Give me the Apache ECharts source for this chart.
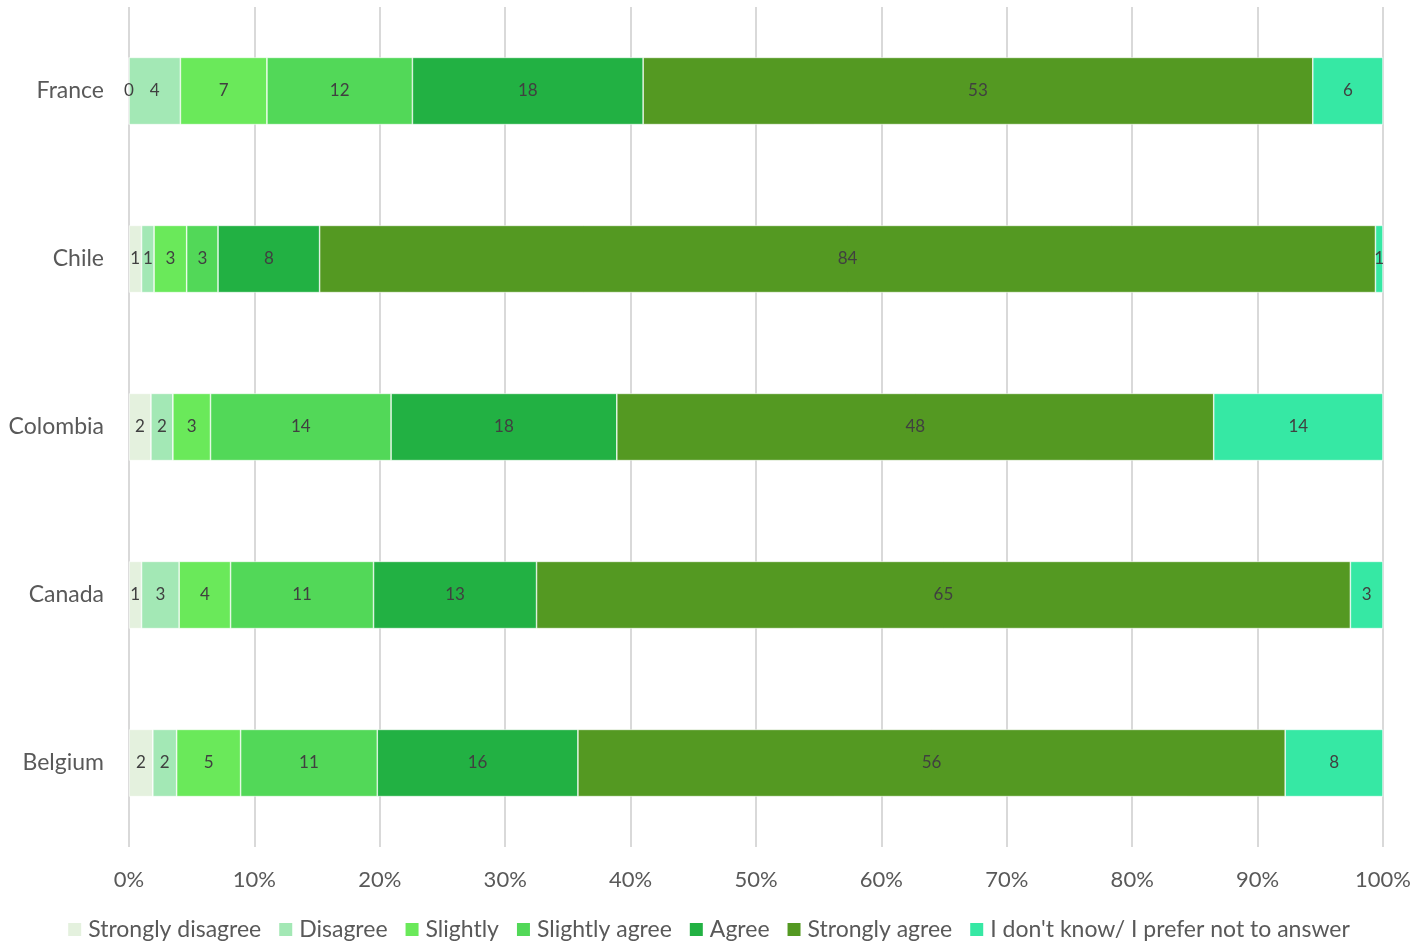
<!DOCTYPE html>
<html>
<head>
<meta charset="utf-8">
<script src="https://cdn.jsdelivr.net/npm/echarts@6/dist/echarts.min.js"></script>
<style>
  html, body { margin: 0; padding: 0; background: #fff; }
  #chart { width: 1416px; height: 952px; }
</style>
</head>
<body>
<div id="chart"></div>
<script>
// countries, top to bottom
const countries = ['France', 'Chile', 'Colombia', 'Canada', 'Belgium'];
const xTicks = [0, 10, 20, 30, 40, 50, 60, 70, 80, 90, 100];

// share of answers (%), one array per answer, same order as countries
const stronglyDisagree = [0, 1.0, 1.75, 1.0, 1.9];
const disagree = [4.1, 1.0, 1.75, 3.0, 1.9];
const slightly = [6.9, 2.6, 3.0, 4.1, 5.1];
const slightlyAgree = [11.6, 2.5, 14.4, 11.4, 10.9];
const agree = [18.4, 8.1, 18.0, 13.0, 16.0];
const stronglyAgree = [53.4, 84.2, 47.6, 64.9, 56.4];
const dontKnow = [5.6, 0.6, 13.5, 2.6, 7.8];

const answers = [
  { name: 'Strongly disagree', data: stronglyDisagree, color: '#e4f1de' },
  { name: 'Disagree', data: disagree, color: '#a3e8b5' },
  { name: 'Slightly', data: slightly, color: '#6ae95a' },
  { name: 'Slightly agree', data: slightlyAgree, color: '#52d858' },
  { name: 'Agree', data: agree, color: '#22b143' },
  { name: 'Strongly agree', data: stronglyAgree, color: '#549922' },
  { name: "I don't know/ I prefer not to answer", data: dontKnow, color: '#36e8a4' }
];

const font = 'Lato, "Open Sans", sans-serif';
const chart = echarts.init(document.getElementById('chart'));

chart.setOption({
  animation: false,
  textStyle: { fontFamily: font },
  grid: { left: 129, right: 33, top: 7, bottom: 105, containLabel: false },
  legend: {
    bottom: 6,
    left: 'center',
    itemWidth: 15,
    itemHeight: 15,
    itemGap: 16,
    icon: 'rect',
    textStyle: { fontSize: 23, color: '#595959', fontFamily: font, padding: [0, 0, 0, 1] }
  },
  xAxis: {
    type: 'value',
    min: 0,
    max: 100,
    interval: 10,
    axisLine: { show: false },
    axisTick: { show: false },
    splitLine: { show: true, lineStyle: { color: '#d9d9d9', width: 2 } },
    axisLabel: {
      fontSize: 22,
      color: '#595959',
      margin: 22,
      formatter: v => xTicks.includes(v) ? v + '%' : ''
    }
  },
  yAxis: {
    type: 'category',
    data: countries,
    inverse: true,
    axisLine: { show: false },
    axisTick: { show: false },
    axisLabel: { fontSize: 23, color: '#595959', margin: 25 }
  },
  series: answers.map(a => ({
    name: a.name,
    type: 'bar',
    stack: 'total',
    barWidth: '40%',
    data: a.data,
    itemStyle: { color: a.color, borderColor: '#ffffff', borderWidth: 0.6 },
    label: {
      show: true,
      position: 'inside',
      fontSize: 17,
      color: '#404040',
      fontFamily: font,
      formatter: p => Math.round(p.value)
    }
  }))
});
</script>
</body>
</html>
